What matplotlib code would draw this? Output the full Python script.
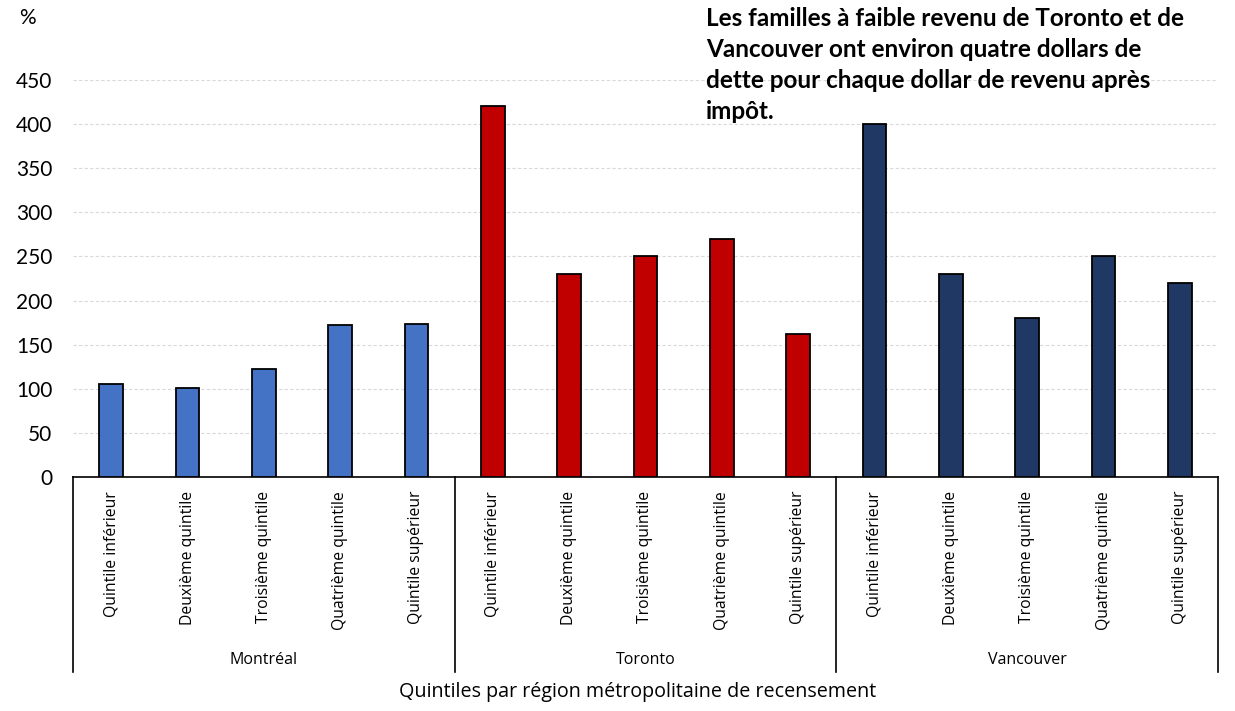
import matplotlib
matplotlib.use("Agg")
import matplotlib.pyplot as plt
from matplotlib.lines import Line2D

regions = ["Montréal", "Toronto", "Vancouver"]
quintiles = ["Quintile inférieur", "Deuxième quintile", "Troisième quintile",
             "Quatrième quintile", "Quintile supérieur"]
montreal = [105, 101, 122, 172, 173]
toronto = [420, 230, 250, 270, 162]
vancouver = [400, 230, 180, 250, 220]
colors = ["#4472C4", "#C00000", "#203864"]
yticks = [0, 50, 100, 150, 200, 250, 300, 350, 400, 450]
annotation = ("Les familles à faible revenu de Toronto et de\n"
              "Vancouver ont environ quatre dollars de\n"
              "dette pour chaque dollar de revenu après\n"
              "impôt.")
xtitle = "Quintiles par région métropolitaine de recensement"

main_font = ["Lato", "DejaVu Sans"]
label_font = ["Open Sans", "DejaVu Sans"]

fig = plt.figure(figsize=(12.35, 7.11), dpi=100)
ax = fig.add_axes([73 / 1235, 1 - 477 / 711, (1218 - 73) / 1235, (477 - 80) / 711])

series = [montreal, toronto, vancouver]
n = len(quintiles)
for g, (vals, col) in enumerate(zip(series, colors)):
    xs = [g * n + i for i in range(n)]
    ax.bar(xs, vals, width=0.31, color=col, edgecolor="black", linewidth=1.3, zorder=3)

ax.set_xlim(-0.5, len(regions) * n - 0.5)
ax.set_ylim(0, 450)
ax.set_yticks(yticks)
ax.set_yticklabels([str(v) for v in yticks], fontfamily=main_font, fontsize=15)
ax.yaxis.grid(True, color="#d9d9d9", linestyle=(0, (3, 2)), linewidth=0.8, zorder=0)
ax.tick_params(axis="y", length=0, pad=15)

xt = list(range(len(regions) * n))
ax.set_xticks(xt)
ax.set_xticklabels(quintiles * len(regions), rotation=90, va="top", ha="center",
                   fontfamily=label_font, fontsize=11.3)
ax.tick_params(axis="x", length=0, pad=10)

for s in ["top", "right", "left"]:
    ax.spines[s].set_visible(False)
ax.spines["bottom"].set_color("black")
ax.spines["bottom"].set_linewidth(1.2)

trans = ax.get_xaxis_transform()
for b in [-0.5 + k * n for k in range(len(regions) + 1)]:
    ax.add_line(Line2D([b, b], [0, -0.491], transform=trans, color="black",
                       linewidth=1.2, clip_on=False))
for g, r in enumerate(regions):
    ax.text(g * n + (n - 1) / 2, -0.462, r, transform=trans, ha="center", va="center",
            fontfamily=label_font, fontsize=11.5)

fig.text(638 / 1235, 1 - 692 / 711, xtitle, ha="center", va="center",
         fontfamily=label_font, fontsize=14.2)
fig.text(27 / 1235, 1 - 18 / 711, "%", ha="center", va="center",
         fontfamily=main_font, fontsize=15)
fig.text(706 / 1235, 1 - 7 / 711, annotation, ha="left", va="top",
         fontfamily=main_font, fontsize=17.5, fontweight="bold", linespacing=1.42)

fig.savefig("out.png", dpi=100)
